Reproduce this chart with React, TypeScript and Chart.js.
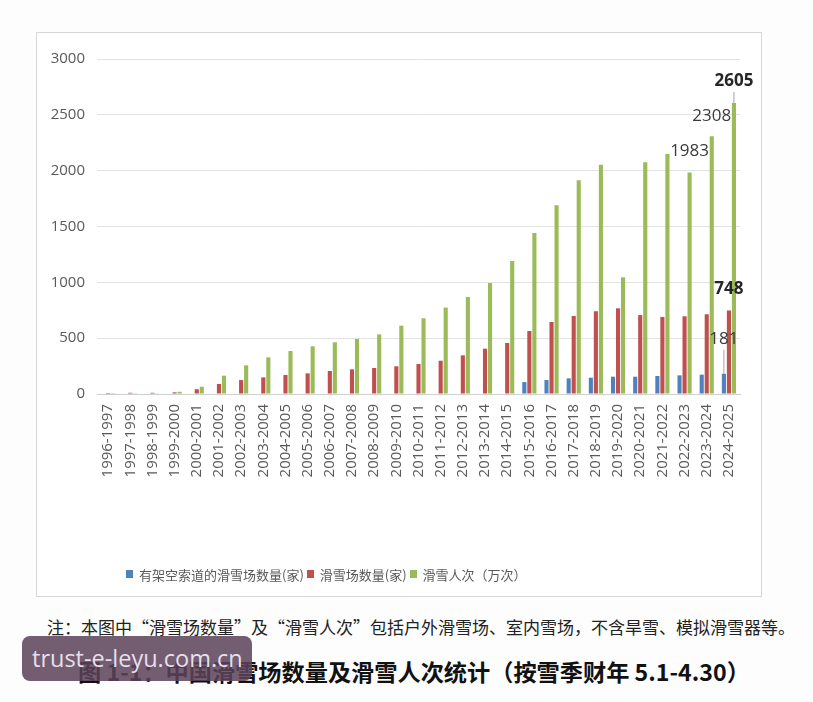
import React, { useEffect, useRef } from "react";
import { Chart, registerables } from "chart.js";

Chart.register(...registerables);

// Snow seasons (May 1 – Apr 30)
const seasons = [
  "1996-1997", "1997-1998", "1998-1999", "1999-2000", "2000-2001",
  "2001-2002", "2002-2003", "2003-2004", "2004-2005", "2005-2006",
  "2006-2007", "2007-2008", "2008-2009", "2009-2010", "2010-2011",
  "2011-2012", "2012-2013", "2013-2014", "2014-2015", "2015-2016",
  "2016-2017", "2017-2018", "2018-2019", "2019-2020", "2020-2021",
  "2021-2022", "2022-2023", "2023-2024", "2024-2025",
];

// 有架空索道的滑雪场数量(家)
const cablewayResorts = [
  null, null, null, null, null, null, null, null, null, null,
  null, null, null, null, null, null, null, null, null,
  107, 125, 140, 146, 155, 155, 161, 167, 173, 181,
];

// 滑雪场数量(家)
const skiResorts = [
  9, 11, 11, 15, 43, 90, 125, 149, 170, 185,
  206, 221, 233, 248, 269, 298, 346, 406, 457, 564,
  645, 699, 741, 767, 707, 690, 696, 714, 748,
];

// 滑雪人次（万次）
const skierVisits = [
  1, 2, 3, 20, 65, 164, 257, 328, 385, 427,
  463, 493, 534, 612, 678, 774, 869, 994, 1191, 1442,
  1690, 1914, 2054, 1045, 2075, 2149, 1983, 2308, 2605,
];

const yTicks = [0, 500, 1000, 1500, 2000, 2500, 3000];

const seriesNames = ["有架空索道的滑雪场数量(家)", "滑雪场数量(家)", "滑雪人次（万次）"];
const seriesColors = ["#4f81bd", "#c0504d", "#9bbb59"];

// Value callouts: [dataset index, season index, bold, lift above bar top, leader line]
const callouts: [number, number, boolean, number, boolean][] = [
  [2, 28, true, 22, true],
  [2, 27, false, 20, false],
  [2, 26, false, 21, false],
  [1, 28, true, 21, false],
  [0, 28, false, 35, true],
];

const seriesData = [cablewayResorts, skiResorts, skierVisits];

const calloutPlugin = {
  id: "callouts",
  afterDatasetsDraw(chart: any) {
    const ctx = chart.ctx;
    ctx.save();
    ctx.textAlign = "center";
    ctx.textBaseline = "middle";
    for (const [ds, idx, bold, lift, leader] of callouts) {
      const el = chart.getDatasetMeta(ds).data[idx];
      if (!el) continue;
      const value = seriesData[ds][idx] as number;
      const x = el.x;
      const top = el.y;
      const cy = top - lift;
      if (leader) {
        ctx.strokeStyle = "rgba(120,120,120,0.7)";
        ctx.lineWidth = 1;
        ctx.beginPath();
        ctx.moveTo(x, cy + 11);
        ctx.lineTo(x, top);
        ctx.stroke();
      }
      ctx.font = `${bold ? "bold " : ""}17px "Open Sans"`;
      ctx.fillStyle = bold ? "#262626" : "#3a3a3a";
      ctx.fillText(String(value), x, cy);
    }
    ctx.restore();
  },
};

export default function App() {
  const canvasRef = useRef<HTMLCanvasElement | null>(null);

  useEffect(() => {
    if (!canvasRef.current) return;
    const chart = new Chart(canvasRef.current, {
      type: "bar",
      data: {
        labels: seasons,
        datasets: seriesData.map((d, i) => ({
          label: seriesNames[i],
          data: d,
          backgroundColor: seriesColors[i],
          categoryPercentage: 0.68,
          barPercentage: 0.82,
        })),
      },
      options: {
        animation: false,
        responsive: false,
        maintainAspectRatio: false,
        layout: { padding: { left: 0, right: 21, top: 26, bottom: 12 } },
        plugins: {
          legend: { display: false },
          tooltip: { enabled: false },
        },
        scales: {
          y: {
            min: 0,
            max: 3000,
            afterBuildTicks: (scale: any) => {
              scale.ticks = yTicks.map((v) => ({ value: v }));
            },
            afterFit: (scale: any) => {
              scale.width = 60;
            },
            ticks: {
              color: "#595959",
              font: { family: "Open Sans", size: 15 },
              padding: 12,
              callback: (v: any) => String(v),
            },
            grid: { color: "#e3e3e3", drawTicks: false, lineWidth: 1 },
            border: { display: false },
          },
          x: {
            afterFit: (scale: any) => {
              scale.height = 190;
            },
            ticks: {
              autoSkip: false,
              minRotation: 90,
              maxRotation: 90,
              color: "#595959",
              font: { family: "Open Sans", size: 15 },
              padding: 10,
            },
            grid: { display: false, drawTicks: false },
            border: { display: true, color: "#cfcfcf", width: 1 },
          },
        },
      },
      plugins: [calloutPlugin],
    });
    return () => chart.destroy();
  }, []);

  const cjk = '"Noto Sans CJK SC", "Noto Sans", sans-serif';

  return (
    <div style={{ position: "absolute", left: 0, top: 0, width: 813, height: 702, background: "#fdfdfd", overflow: "hidden" }}>
      <div
        style={{
          position: "absolute",
          left: 36,
          top: 32,
          width: 724,
          height: 563,
          border: "1px solid #d6d6d6",
          background: "#ffffff",
        }}
      >
        <canvas ref={canvasRef} width={724} height={563} style={{ display: "block" }} />
        <div
          style={{
            position: "absolute",
            left: 89,
            top: 530,
            height: 22,
            display: "flex",
            alignItems: "center",
            fontFamily: cjk,
            fontSize: 13,
            color: "#595959",
            whiteSpace: "nowrap",
          }}
        >
          {seriesNames.map((name, i) => (
            <span key={name} style={{ display: "flex", alignItems: "center", marginRight: 3 }}>
              <span style={{ display: "inline-block", width: 7, height: 8, background: seriesColors[i], marginRight: 6 }} />
              {name}
            </span>
          ))}
        </div>
      </div>
      <div
        style={{
          position: "absolute",
          left: 47,
          top: 614,
          fontFamily: cjk,
          fontSize: 17,
          color: "#222",
          whiteSpace: "nowrap",
        }}
      >
        注：本图中“滑雪场数量”及“滑雪人次”包括户外滑雪场、室内雪场，不含旱雪、模拟滑雪器等。
      </div>
      <div
        style={{
          position: "absolute",
          left: 78,
          top: 654,
          fontFamily: cjk,
          fontSize: 23.2,
          fontWeight: 700,
          color: "#111",
          whiteSpace: "nowrap",
        }}
      >
        图 1-1：中国滑雪场数量及滑雪人次统计（按雪季财年 5.1-4.30）
      </div>
      <div
        style={{
          position: "absolute",
          left: 22,
          top: 636,
          width: 230,
          height: 45,
          borderRadius: 8,
          background: "rgba(92,66,90,0.86)",
          color: "#e8dfec",
          fontFamily: '"Open Sans", sans-serif',
          fontSize: 23.5,
          lineHeight: "45px",
          paddingLeft: 10,
          boxSizing: "border-box",
          whiteSpace: "nowrap",
        }}
      >
        trust-e-leyu.com.cn
      </div>
    </div>
  );
}
